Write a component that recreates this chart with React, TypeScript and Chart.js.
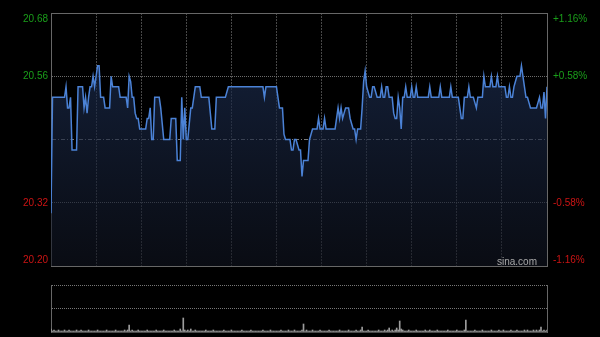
import React, { useEffect, useRef } from 'react';
import { Chart, registerables } from 'chart.js';

Chart.register(...registerables);

// ---- data ----
const prevClose = 20.44;
const priceMin = 20.2;
const priceMax = 20.68;

// one value per minute (HK session: 330 minutes + opening point)
const prices = [
  20.30, 20.52, 20.52, 20.52, 20.52, 20.52, 20.52, 20.52, 20.52, 20.52,
  20.54, 20.50, 20.50, 20.52, 20.42, 20.42, 20.42, 20.42, 20.54, 20.54,
  20.54, 20.54, 20.50, 20.52, 20.49, 20.52, 20.54, 20.54, 20.56, 20.54,
  20.56, 20.58, 20.58, 20.52, 20.52, 20.52, 20.50, 20.50, 20.50, 20.50,
  20.56, 20.54, 20.54, 20.54, 20.54, 20.54, 20.52, 20.52, 20.52, 20.52,
  20.52, 20.50, 20.56, 20.55, 20.52, 20.52, 20.49, 20.48, 20.48, 20.46,
  20.46, 20.46, 20.46, 20.46, 20.48, 20.48, 20.50, 20.44, 20.44, 20.52,
  20.52, 20.52, 20.52, 20.50, 20.47, 20.44, 20.44, 20.44, 20.44, 20.44,
  20.48, 20.48, 20.48, 20.48, 20.40, 20.40, 20.40, 20.52, 20.44, 20.50,
  20.44, 20.44, 20.47, 20.50, 20.50, 20.52, 20.54, 20.54, 20.54, 20.54,
  20.52, 20.52, 20.52, 20.52, 20.52, 20.52, 20.49, 20.46, 20.46, 20.46,
  20.52, 20.52, 20.52, 20.52, 20.52, 20.52, 20.52, 20.53, 20.54, 20.54,
  20.54, 20.54, 20.54, 20.54, 20.54, 20.54, 20.54, 20.54, 20.54, 20.54,
  20.54, 20.54, 20.54, 20.54, 20.54, 20.54, 20.54, 20.54, 20.54, 20.54,
  20.54, 20.54, 20.52, 20.54, 20.54, 20.54, 20.54, 20.54, 20.54, 20.54,
  20.54, 20.52, 20.50, 20.50, 20.50, 20.45, 20.44, 20.44, 20.44, 20.44,
  20.42, 20.42, 20.44, 20.44, 20.43, 20.42, 20.42, 20.37, 20.40, 20.40,
  20.40, 20.40, 20.44, 20.45, 20.46, 20.46, 20.46, 20.46, 20.48, 20.46,
  20.46, 20.46, 20.48, 20.46, 20.46, 20.46, 20.46, 20.46, 20.46, 20.46,
  20.48, 20.50, 20.48, 20.50, 20.48, 20.49, 20.50, 20.50, 20.50, 20.48,
  20.47, 20.46, 20.46, 20.44, 20.46, 20.46, 20.46, 20.50, 20.55, 20.57,
  20.54, 20.53, 20.52, 20.52, 20.54, 20.54, 20.53, 20.52, 20.52, 20.52,
  20.54, 20.52, 20.52, 20.54, 20.54, 20.52, 20.52, 20.52, 20.49, 20.48,
  20.48, 20.52, 20.50, 20.46, 20.52, 20.52, 20.54, 20.52, 20.52, 20.52,
  20.54, 20.52, 20.52, 20.54, 20.52, 20.52, 20.52, 20.52, 20.52, 20.52,
  20.52, 20.52, 20.54, 20.52, 20.52, 20.52, 20.52, 20.52, 20.52, 20.54,
  20.52, 20.52, 20.52, 20.52, 20.52, 20.52, 20.54, 20.52, 20.52, 20.52,
  20.52, 20.52, 20.50, 20.48, 20.48, 20.52, 20.52, 20.52, 20.54, 20.52,
  20.52, 20.52, 20.51, 20.50, 20.52, 20.52, 20.52, 20.52, 20.56, 20.54,
  20.54, 20.54, 20.54, 20.56, 20.54, 20.54, 20.54, 20.56, 20.54, 20.54,
  20.54, 20.54, 20.54, 20.52, 20.52, 20.54, 20.52, 20.52, 20.54, 20.55,
  20.56, 20.56, 20.56, 20.58, 20.56, 20.54, 20.52, 20.52, 20.51, 20.50,
  20.50, 20.50, 20.50, 20.50, 20.51, 20.52, 20.50, 20.50, 20.53, 20.48,
  20.54,
];

const volumes = [
  3, 1, 2, 1, 1, 2, 1, 1, 1, 2,
  1, 1, 2, 1, 1, 1, 1, 2, 1, 1,
  2, 1, 1, 1, 1, 2, 1, 1, 1, 1,
  1, 2, 1, 1, 1, 1, 1, 2, 1, 1,
  1, 1, 1, 2, 1, 1, 1, 1, 1, 2,
  1, 2, 7, 1, 2, 1, 1, 1, 2, 1,
  1, 1, 1, 1, 2, 1, 1, 1, 1, 1,
  2, 1, 1, 1, 1, 2, 1, 1, 1, 1,
  1, 1, 2, 1, 1, 1, 3, 1, 14, 2,
  1, 2, 1, 3, 1, 1, 2, 1, 1, 1,
  1, 1, 1, 2, 1, 1, 1, 1, 2, 1,
  1, 1, 1, 1, 1, 2, 1, 1, 1, 1,
  2, 1, 1, 1, 1, 1, 1, 2, 1, 1,
  1, 1, 1, 2, 1, 1, 1, 1, 1, 1,
  1, 2, 1, 1, 1, 1, 2, 1, 1, 1,
  1, 1, 1, 2, 1, 1, 1, 1, 2, 1,
  1, 1, 2, 1, 1, 1, 1, 2, 8, 1,
  2, 1, 1, 1, 2, 1, 1, 1, 1, 2,
  1, 1, 1, 1, 1, 2, 1, 1, 1, 1,
  1, 1, 2, 1, 1, 1, 1, 1, 2, 1,
  1, 1, 1, 2, 1, 1, 2, 5, 1, 1,
  1, 2, 1, 1, 1, 1, 1, 1, 2, 1,
  1, 1, 2, 1, 2, 4, 1, 2, 1, 2,
  4, 2, 11, 3, 2, 1, 1, 1, 2, 1,
  1, 1, 1, 2, 1, 1, 1, 1, 1, 2,
  1, 1, 2, 1, 1, 1, 1, 2, 1, 1,
  1, 1, 1, 1, 2, 1, 1, 1, 1, 1,
  2, 1, 1, 1, 1, 2, 12, 1, 1, 1,
  1, 1, 2, 1, 1, 1, 1, 2, 1, 1,
  1, 1, 1, 2, 1, 1, 1, 1, 2, 1,
  1, 2, 1, 1, 1, 1, 2, 1, 1, 1,
  2, 1, 1, 1, 1, 2, 1, 2, 1, 1,
  1, 2, 1, 2, 1, 2, 5, 1, 2, 1,
  2,
];
const volumeMax = 47;

const priceTicks = [20.2, 20.32, 20.44, 20.56, 20.68];
const priceLabels = ['20.20', '20.32', '', '20.56', '20.68'];
const pctLabels = ['-1.16%', '-0.58%', '', '+0.58%', '+1.16%'];
const timeTicks = [0, 30, 60, 90, 120, 150, 180, 210, 240, 270, 300, 330];
const volumeTicks = [0, volumeMax / 2, volumeMax];
const sessionEnd = 330;

// ---- styles ----
const FONT = '"Liberation Sans", Arial, sans-serif';
const GREEN = '#1a9e1a';
const RED = '#cc1414';
const BORDER = '#676767';

const near = (a: number, b: number) => Math.abs(a - b) < 1e-6;
const tickIndex = (v: number) => priceTicks.findIndex((t) => near(t, v));

const labelLines = (txt: string, v: number) => {
  if (!txt) return '';
  if (near(v, priceMax)) return ['', txt];
  if (near(v, priceMin)) return [txt, ''];
  return txt;
};

const fixWidth = (w: number) => (s: any) => {
  s.width = w;
  s.paddingTop = 0;
  s.paddingBottom = 0;
};

const watermark = {
  id: 'watermark',
  afterDraw(chart: any) {
    const { ctx, chartArea } = chart;
    ctx.save();
    ctx.font = `10px ${FONT}`;
    ctx.fillStyle = '#a8a8a8';
    ctx.textAlign = 'right';
    ctx.textBaseline = 'alphabetic';
    ctx.fillText('sina.com', chartArea.right - 10, chartArea.bottom - 1.5);
    ctx.restore();
  },
};

export default function App() {
  const mainRef = useRef<HTMLCanvasElement>(null);
  const volRef = useRef<HTMLCanvasElement>(null);

  useEffect(() => {
    const setTicks = (values: number[]) => (scale: any) => {
      scale.ticks = values.map((v) => ({ value: v }));
    };

    const main = new Chart(mainRef.current as HTMLCanvasElement, {
      type: 'line',
      data: {
        datasets: [
          {
            data: prices.map((p, i) => ({ x: i, y: p })),
            borderColor: '#4b82d6',
            borderWidth: 1.5,
            pointRadius: 0,
            tension: 0,
            fill: 'start',
            backgroundColor: (ctx: any) => {
              const area = ctx.chart.chartArea;
              if (!area) return 'rgba(0,0,0,0)';
              const g = ctx.chart.ctx.createLinearGradient(0, area.top, 0, area.bottom);
              g.addColorStop(0, 'rgba(30,50,90,0.7)');
              g.addColorStop(1, 'rgba(16,20,32,0.6)');
              return g;
            },
          },
        ],
      },
      options: {
        responsive: false,
        maintainAspectRatio: false,
        animation: false,
        events: [],
        layout: { padding: { top: 13, bottom: 71, left: 0, right: 0 } },
        plugins: { legend: { display: false }, tooltip: { enabled: false } },
        scales: {
          x: {
            type: 'linear',
            min: 0,
            max: sessionEnd,
            afterBuildTicks: setTicks(timeTicks),
            afterFit: (s: any) => {
              s.height = 0;
            },
            ticks: { display: false },
            grid: {
              drawTicks: false,
              color: (ctx: any) =>
                ctx.tick && (ctx.tick.value === 0 || ctx.tick.value === sessionEnd)
                  ? 'rgba(0,0,0,0)'
                  : '#474747',
            },
            border: {
              display: true,
              color: BORDER,
              width: 1,
              dash: (ctx: any) => (ctx.tick ? [2, 1] : []),
            },
          },
          y: {
            position: 'left',
            min: priceMin,
            max: priceMax,
            afterBuildTicks: setTicks(priceTicks),
            afterFit: fixWidth(51),
            ticks: {
              padding: 3,
              font: { size: 10, family: FONT, lineHeight: 1.2 },
              color: (ctx: any) => (ctx.tick && ctx.tick.value > prevClose ? GREEN : RED),
              callback: (v: any) => labelLines(priceLabels[tickIndex(Number(v))] || '', Number(v)),
            },
            grid: {
              drawTicks: false,
              color: (ctx: any) => {
                if (!ctx.tick) return BORDER;
                const v = ctx.tick.value;
                if (near(v, priceMin) || near(v, priceMax)) return BORDER;
                if (near(v, prevClose)) return '#7c7c7c';
                return '#6c6c6c';
              },
            },
            border: {
              display: true,
              color: BORDER,
              width: 1,
              dash: (ctx: any) => {
                if (!ctx.tick) return [];
                const v = ctx.tick.value;
                if (near(v, priceMin) || near(v, priceMax)) return [];
                if (near(v, prevClose)) return [4, 2, 1, 2];
                return [1, 1];
              },
            },
          },
          y2: {
            position: 'right',
            min: priceMin,
            max: priceMax,
            afterBuildTicks: setTicks(priceTicks),
            afterFit: fixWidth(53),
            ticks: {
              padding: 6,
              font: { size: 10, family: FONT, lineHeight: 1.2 },
              color: (ctx: any) => (ctx.tick && ctx.tick.value > prevClose ? GREEN : RED),
              callback: (v: any) => labelLines(pctLabels[tickIndex(Number(v))] || '', Number(v)),
            },
            grid: { display: false, drawTicks: false },
            border: { display: true, color: BORDER, width: 1 },
          },
        },
      },
      plugins: [watermark],
    } as any);

    const vol = new Chart(volRef.current as HTMLCanvasElement, {
      type: 'bar',
      data: {
        datasets: [
          {
            data: volumes.map((v, i) => ({ x: i, y: v })),
            backgroundColor: '#9c9c9c',
            borderWidth: 0,
            barThickness: 1,
          },
        ],
      },
      options: {
        responsive: false,
        maintainAspectRatio: false,
        animation: false,
        events: [],
        layout: { padding: { top: 285, bottom: 5, left: 0, right: 0 } },
        plugins: { legend: { display: false }, tooltip: { enabled: false } },
        scales: {
          x: {
            type: 'linear',
            min: 0,
            max: sessionEnd,
            offset: false,
            afterFit: (s: any) => {
              s.height = 0;
            },
            ticks: { display: false },
            grid: { display: false, drawTicks: false },
            border: { display: true, color: '#4a4a4a', width: 1 },
          },
          y: {
            position: 'left',
            min: 0,
            max: volumeMax,
            afterBuildTicks: setTicks(volumeTicks),
            afterFit: fixWidth(51),
            ticks: { display: false },
            grid: {
              drawTicks: false,
              color: (ctx: any) => (ctx.tick && ctx.tick.value === 0 ? 'rgba(0,0,0,0)' : '#777777'),
            },
            border: {
              display: true,
              color: BORDER,
              width: 1,
              dash: (ctx: any) => (ctx.tick ? [1, 1] : []),
            },
          },
          y2: {
            position: 'right',
            min: 0,
            max: volumeMax,
            afterFit: fixWidth(53),
            ticks: { display: false },
            grid: { display: false, drawTicks: false },
            border: { display: true, color: BORDER, width: 1 },
          },
        },
      },
    } as any);

    return () => {
      main.destroy();
      vol.destroy();
    };
  }, []);

  return (
    <div
      style={{
        position: 'absolute',
        left: 0,
        top: 0,
        width: 600,
        height: 337,
        background: '#000',
        overflow: 'hidden',
      }}
    >
      <canvas ref={mainRef} width={600} height={337} style={{ position: 'absolute', left: 0, top: 0 }} />
      <canvas ref={volRef} width={600} height={337} style={{ position: 'absolute', left: 0, top: 0 }} />
    </div>
  );
}
